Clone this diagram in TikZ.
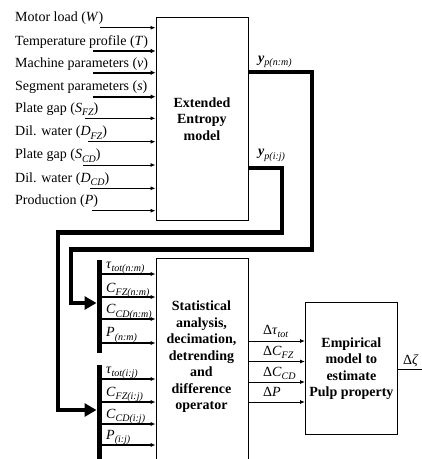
\documentclass[tikz,border=0pt]{standalone}
\usepackage{fontspec}
\setmainfont{Liberation Serif}
\usetikzlibrary{arrows.meta}
\newcommand{\subx}[1]{\raisebox{-0.28em}{\fontsize{10}{12}\selectfont\itshape #1}}
\begin{document}
\begin{tikzpicture}[x=1pt,y=-1pt,
  font=\fontsize{14}{16.5}\selectfont,
  box/.style={draw, line width=0.8pt, anchor=north west, inner sep=0pt},
  boldtxt/.style={font=\fontsize{14}{16.5}\selectfont\bfseries, align=center},
  lbl/.style={anchor=base west, inner sep=0pt},
  thinarrow/.style={line width=0.8pt, -{Latex[length=5pt,width=4pt]}},
  medarrow/.style={line width=1.8pt, -{Latex[length=5pt,width=5pt]}},
  barline/.style={line width=5pt},
  route/.style={line width=4.2pt, line join=miter},
  routearrow/.style={line width=4.2pt, line join=miter, -{Triangle[length=12pt,width=13pt]}}
]
\useasboundingbox (0,0) rectangle (422,459);
\clip (0,0) rectangle (422,459);

% boxes
\node[box, boldtxt, minimum width=92pt, minimum height=203pt] (ent) at (155.5,17) {Extended\\Entropy\\model};
\node[box, minimum width=92pt, minimum height=230pt] (stat) at (155.5,258) {};
\node[boldtxt] (stattxt) at (201.5,357) {Statistical\\analysis,\\decimation,\\detrending\\and\\difference\\operator};
\node[box, boldtxt, minimum width=92pt, minimum height=132pt] (emp) at (305,302) {Empirical\\model to\\estimate\\Pulp property};

% inputs to Extended Entropy model
\coordinate (s1) at (100,27.7);
\coordinate (s2) at (93,51);
\coordinate (s3) at (93,72.7);
\coordinate (s4) at (93,96.7);
\coordinate (s5) at (85,118.3);
\coordinate (s6) at (88,141.7);
\coordinate (s7) at (83,165);
\coordinate (s8) at (90,188.3);
\coordinate (s9) at (92,210.7);
\node[lbl] (l1) at (15,21.7) {Motor load (\textit{W})};
\node[lbl] (l2) at (15,45.5) {Temperature profile (\textit{T})};
\node[lbl] (l3) at (15,67.5) {Machine parameters (\textit{v})};
\node[lbl] (l4) at (15,90.5) {Segment parameters (\textit{s})};
\node[lbl] (l5) at (15,112) {Plate gap (\textit{S}\subx{FZ})};
\node[lbl] (l6) at (15,135.5) {Dil. water (\textit{D}\subx{FZ})};
\node[lbl] (l7) at (15,158.5) {Plate gap (\textit{S}\subx{CD})};
\node[lbl] (l8) at (15,182) {Dil. water (\textit{D}\subx{CD})};
\node[lbl] (l9) at (15,204.5) {Production (\textit{P})};
\draw[thinarrow] (s1) -- (s1 -| ent.west);
\draw[medarrow] (s2) -- (s2 -| ent.west);
\draw[medarrow] (s3) -- (s3 -| ent.west);
\draw[medarrow] (s4) -- (s4 -| ent.west);
\draw[thinarrow] (s5) -- (s5 -| ent.west);
\draw[thinarrow] (s6) -- (s6 -| ent.west);
\draw[thinarrow] (s7) -- (s7 -| ent.west);
\draw[thinarrow] (s8) -- (s8 -| ent.west);
\draw[thinarrow] (s9) -- (s9 -| ent.west);

% outputs of Extended Entropy model
\node[lbl] (ynm) at (258,62) {\textbf{\textit{y}}\subx{p(n:m)}};
\node[lbl] (yij) at (258,155.5) {\textbf{\textit{y}}\subx{p(i:j)}};
\coordinate (onm) at (247.5,72);
\coordinate (oij) at (247.5,168);

% bars
\coordinate (b1t) at (99,260);
\coordinate (b1b) at (99,353);
\coordinate (b2t) at (99,365);
\coordinate (b2b) at (99,470);
\draw[barline] (b1t) -- (b1b);
\draw[barline] (b2t) -- (b2b);

% thick routes
\coordinate (anm) at (96.5,303);
\coordinate (aij) at (96.5,410);
\draw[routearrow] (onm) -- (312,72) -- (312,249.5) -- (71,249.5) -- (71,303) -- (anm);
\draw[routearrow] (oij) -- (282,168) -- (282,232.5) -- (58,232.5) -- (58,410) -- (aij);

% arrows from bars
\coordinate (m1) at (101.5,274);
\coordinate (m2) at (101.5,297);
\coordinate (m3) at (101.5,319);
\coordinate (m4) at (101.5,343);
\coordinate (m5) at (101.5,379);
\coordinate (m6) at (101.5,402);
\coordinate (m7) at (101.5,424);
\coordinate (m8) at (101.5,445);
\foreach \m in {m1,m2,m3,m4,m5,m6,m7,m8}{
  \draw[line width=1.4pt, -{Latex[length=5pt,width=4.5pt]}] (\m) -- (\m -| stat.west);
}
\node[lbl] (t1) at (106,268) {\textit{τ}\subx{tot(n:m)}};
\node[lbl] (t2) at (106,292) {\textit{C}\subx{FZ(n:m)}};
\node[lbl] (t3) at (106,313.5) {\textit{C}\subx{CD(n:m)}};
\node[lbl] (t4) at (106,336.5) {\textit{P}\subx{(n:m)}};
\node[lbl] (t5) at (106,373) {\textit{τ}\subx{tot(i:j)}};
\node[lbl] (t6) at (106,396) {\textit{C}\subx{FZ(i:j)}};
\node[lbl] (t7) at (106,418) {\textit{C}\subx{CD(i:j)}};
\node[lbl] (t8) at (106,439) {\textit{P}\subx{(i:j)}};

% delta arrows
\coordinate (d1) at (247.5,341);
\coordinate (d2) at (247.5,361.5);
\coordinate (d3) at (247.5,382);
\coordinate (d4) at (247.5,402);
\foreach \d in {d1,d2,d3,d4}{
  \draw[thinarrow] (\d) -- (\d -| emp.west);
}
\node[lbl] (e1) at (263,334) {Δ\textit{τ}\subx{tot}};
\node[lbl] (e2) at (263,355) {Δ\textit{C}\subx{FZ}};
\node[lbl] (e3) at (263,376) {Δ\textit{C}\subx{CD}};
\node[lbl] (e4) at (263,396) {Δ\textit{P}};

% output
\coordinate (zend) at (422,369);
\draw[line width=0.8pt] (emp.east |- zend) -- (zend);
\node[lbl] (zl) at (403,364) {Δ\textit{ζ}};
\end{tikzpicture}
\end{document}
